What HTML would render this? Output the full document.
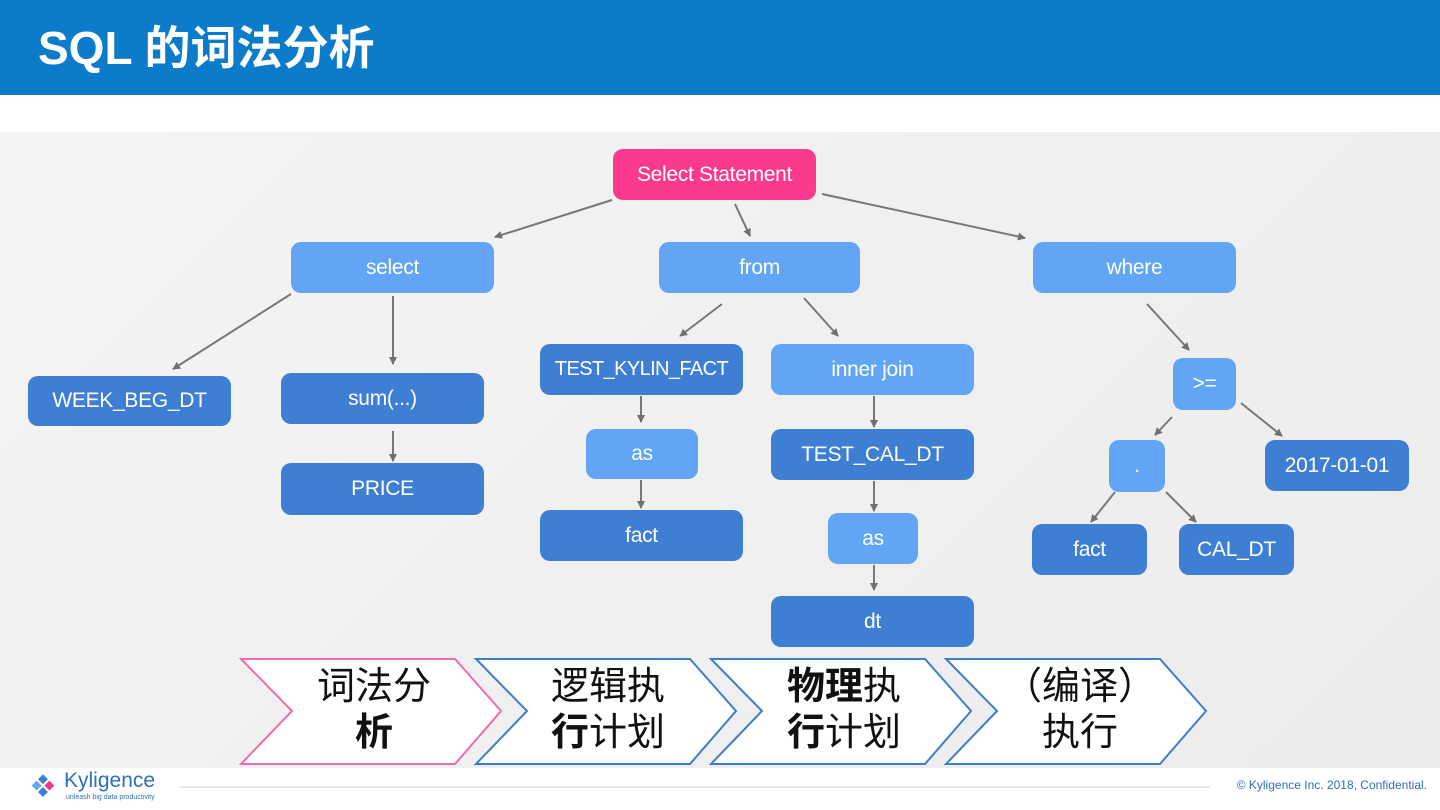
<!DOCTYPE html>
<html><head><meta charset="utf-8"><style>
body{margin:0;width:1440px;height:810px;position:relative;background:#fff;overflow:hidden;font-family:"Liberation Sans","Noto Sans CJK SC",sans-serif}
.hdr{position:absolute;left:0;top:0;width:1440px;height:95px;background:#0b7bca}
.hdr span{position:absolute;left:38px;top:20px;color:#fff;font-weight:bold;font-size:46px;line-height:56px}
.bg{position:absolute;left:0;top:132px;width:1440px;height:636px;background:linear-gradient(135deg,#f4f4f4,#ececec)}
.n{position:absolute;border-radius:10px;color:#fff;font-size:21px;display:flex;align-items:center;justify-content:center;white-space:nowrap;letter-spacing:-0.3px}
.p{background:#fb3a8e}.l{background:#62a5f5}.d{background:#3e7fd3}
.c{position:absolute;font-size:38px;color:#111;line-height:46px;text-align:center;white-space:nowrap}
</style></head><body>
<div class="hdr"><span>SQL 的词法分析</span></div>
<div class="bg"></div>
<svg style="position:absolute;left:0;top:0" width="1440" height="810">
<defs><marker id="a" markerWidth="8" markerHeight="8" refX="7" refY="4" orient="auto" markerUnits="userSpaceOnUse"><path d="M0,0 L8,4 L0,8 z" fill="#707070"/></marker></defs>
<g stroke="#777" stroke-width="2" marker-end="url(#a)">
<line x1="612" y1="200" x2="495" y2="237"/><line x1="735" y1="204" x2="750" y2="236"/><line x1="822" y1="194" x2="1025" y2="238"/>
<line x1="291" y1="294" x2="173" y2="369"/><line x1="393" y1="296" x2="393" y2="364"/><line x1="393" y1="431" x2="393" y2="461"/>
<line x1="722" y1="304" x2="680" y2="336"/><line x1="804" y1="298" x2="838" y2="336"/><line x1="641" y1="396" x2="641" y2="422"/><line x1="641" y1="480" x2="641" y2="508"/>
<line x1="874" y1="396" x2="874" y2="427"/><line x1="874" y1="481" x2="874" y2="511"/><line x1="874" y1="565" x2="874" y2="590"/>
<line x1="1147" y1="304" x2="1189" y2="350"/><line x1="1172" y1="417" x2="1155" y2="435"/><line x1="1241" y1="403" x2="1282" y2="436"/>
<line x1="1115" y1="492" x2="1091" y2="522"/><line x1="1166" y1="492" x2="1196" y2="522"/>
</g>
<g fill="#fff" stroke-width="2">
<polygon points="241,659 455,659 501,711 455,764 241,764 292,711" stroke="#f06bb0"/>
<polygon points="476,659 690,659 736,711 690,764 476,764 527,711" stroke="#3a7fc8"/>
<polygon points="711,659 925,659 971,711 925,764 711,764 762,711" stroke="#3a7fc8"/>
<polygon points="946,659 1160,659 1206,711 1160,764 946,764 997,711" stroke="#3a7fc8"/>
</g>
<line x1="180" y1="787" x2="1210" y2="787" stroke="#ccc" stroke-width="1"/>
</svg>
<div class="n p" style="left:613px;top:149px;width:203px;height:51px">Select Statement</div>
<div class="n l" style="left:291px;top:242px;width:203px;height:51px">select</div>
<div class="n l" style="left:659px;top:242px;width:201px;height:51px">from</div>
<div class="n l" style="left:1033px;top:242px;width:203px;height:51px">where</div>
<div class="n d" style="left:28px;top:376px;width:203px;height:50px">WEEK_BEG_DT</div>
<div class="n d" style="left:281px;top:373px;width:203px;height:51px">sum(...)</div>
<div class="n d" style="left:281px;top:463px;width:203px;height:52px">PRICE</div>
<div class="n d" style="left:540px;top:344px;width:203px;height:51px;font-size:20px;letter-spacing:-0.6px">TEST_KYLIN_FACT</div>
<div class="n l" style="left:586px;top:429px;width:112px;height:50px">as</div>
<div class="n d" style="left:540px;top:510px;width:203px;height:51px">fact</div>
<div class="n l" style="left:771px;top:344px;width:203px;height:51px">inner join</div>
<div class="n d" style="left:771px;top:429px;width:203px;height:51px">TEST_CAL_DT</div>
<div class="n l" style="left:828px;top:513px;width:90px;height:51px">as</div>
<div class="n d" style="left:771px;top:596px;width:203px;height:51px">dt</div>
<div class="n l" style="left:1173px;top:358px;width:63px;height:52px">&gt;=</div>
<div class="n l" style="left:1109px;top:440px;width:56px;height:52px">.</div>
<div class="n d" style="left:1265px;top:440px;width:144px;height:51px">2017-01-01</div>
<div class="n d" style="left:1032px;top:524px;width:115px;height:51px">fact</div>
<div class="n d" style="left:1179px;top:524px;width:115px;height:51px">CAL_DT</div>
<div class="c" style="left:274px;top:664px;width:200px">词法分<br><b>析</b></div>
<div class="c" style="left:508px;top:664px;width:200px">逻辑执<br><b>行</b>计划</div>
<div class="c" style="left:744px;top:664px;width:200px"><b>物理</b>执<br><b>行</b>计划</div>
<div class="c" style="left:980px;top:664px;width:200px">（编译）<br>执行</div>
<div style="position:absolute;left:28px;top:772px;width:28px;height:28px">
<svg width="30" height="30"><g transform="rotate(45 15 15)"><rect x="6" y="6" width="7" height="7" fill="#3e7fd3"/><rect x="15" y="6" width="7" height="7" fill="#f0368a"/><rect x="6" y="15" width="7" height="7" fill="#62a5f5"/><rect x="15" y="15" width="7" height="7" fill="#3e7fd3"/></g></svg></div>
<div style="position:absolute;left:64px;top:769px;color:#2f6fb8;font-size:21px;line-height:24px">Kyligence</div>
<div style="position:absolute;left:66px;top:794px;color:#2f6fb8;font-size:7px">unleash big data productivity</div>
<div style="position:absolute;right:13px;top:778px;color:#2f6fb8;font-size:12px">© Kyligence Inc. 2018, Confidential.</div>
</body></html>
